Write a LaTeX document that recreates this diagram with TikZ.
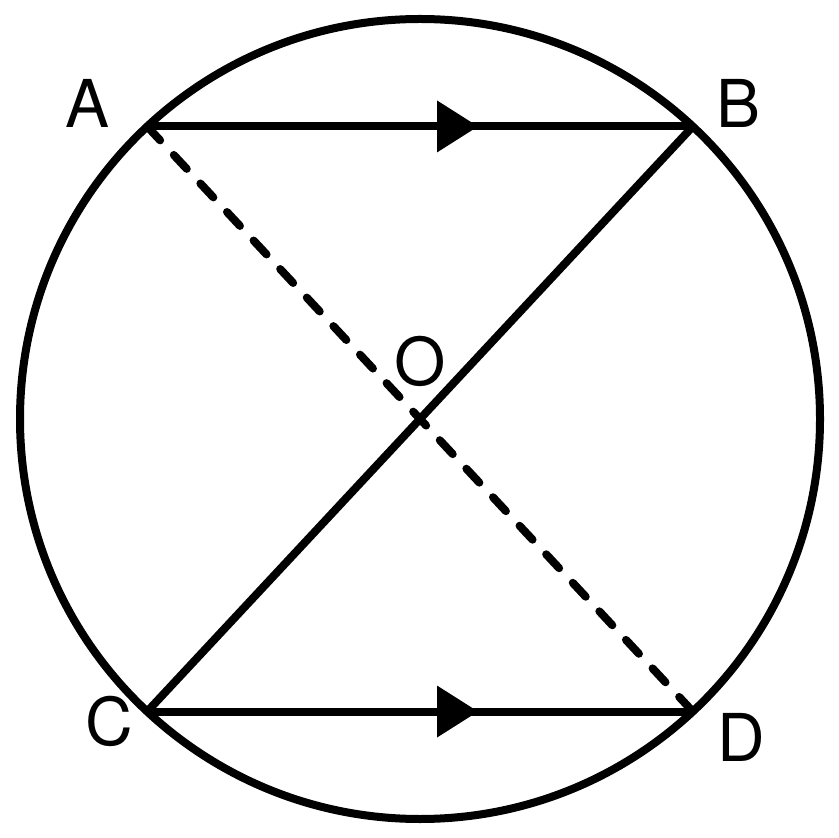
\documentclass[tikz,border=0pt]{standalone}
\usepackage{fontspec}
\setmainfont{TeX Gyre Heros}
\usetikzlibrary{calc}
\begin{document}
\begin{tikzpicture}[x=0.5pt,y=-0.5pt,
  geo/.style={line width=4pt},
  dashline/.style={line width=4pt,line cap=round,dash pattern=on 9.5pt off 10pt},
  lbl/.style={inner sep=0pt,font=\fontsize{33}{33}\selectfont},
  tri/.style={fill=black}]
\useasboundingbox (0,0) rectangle (839,838);
\coordinate (Oc) at (420,419);
% y axis points down: angles measured clockwise on the page
\coordinate (A) at ($(Oc)+(227:400)$);
\coordinate (B) at ($(Oc)+(313:400)$);
\coordinate (C) at ($(Oc)+(133:400)$);
\coordinate (D) at ($(Oc)+(47:400)$);
% circle
\draw[geo] (Oc) circle[radius=400];
% chords
\draw[geo] (A) -- (B);
\draw[geo] (C) -- (D);
\draw[geo] (B) -- (C);
\draw[dashline] (A) -- (D);
% arrowheads
\coordinate (M1) at ($(A)!0.5!(B)$);
\coordinate (M2) at ($(C)!0.5!(D)$);
\fill[tri] ($(M1)+(17,-26)$) -- ($(M1)+(58,0)$) -- ($(M1)+(17,26)$) -- cycle;
\fill[tri] ($(M2)+(17,-26)$) -- ($(M2)+(58,0)$) -- ($(M2)+(17,26)$) -- cycle;
% labels
\node[lbl] (lA) at (87.5,103.5) {A};
\node[lbl] (lB) at (738.5,103.5) {B};
\node[lbl] (lC) at (109.5,721.5) {C};
\node[lbl] (lD) at (741,737) {D};
\node[lbl] (lO) at (420,361) {O};
\end{tikzpicture}
\end{document}
